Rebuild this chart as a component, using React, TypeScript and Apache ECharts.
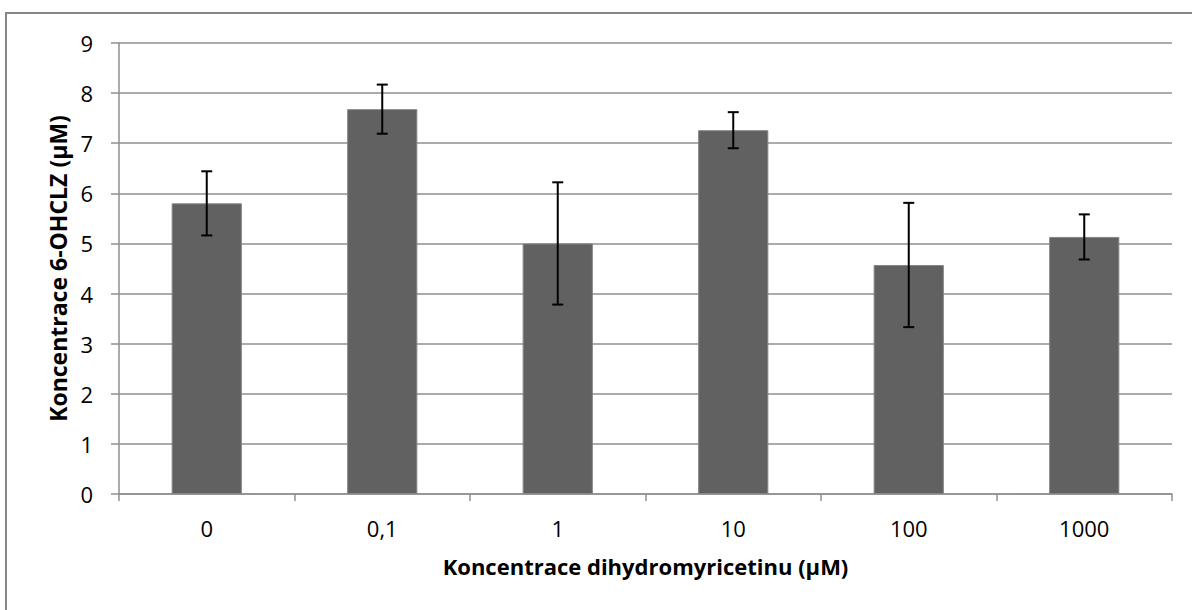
import React, { useEffect, useRef } from "react";
import * as echarts from "echarts";

const categories = ["0", "0,1", "1", "10", "100", "1000"];
const means = [5.8, 7.68, 5.0, 7.26, 4.57, 5.13];
const errors = [0.64, 0.49, 1.22, 0.36, 1.24, 0.45];
const yTicks = { min: 0, max: 9, interval: 1 };
const xTitle = "Koncentrace dihydromyricetinu (µM)";
const yTitle = "Koncentrace 6-OHCLZ (µM)";

const FONT = "'Open Sans', 'Noto Sans', sans-serif";

export default function App() {
  const ref = useRef<HTMLDivElement>(null);
  useEffect(() => {
    if (!ref.current) return;
    const chart = echarts.init(ref.current, null, { renderer: "svg" });
    const errData = means.map((m, i) => [i, m - errors[i], m + errors[i]]);
    chart.setOption({
      animation: false,
      backgroundColor: "#ffffff",
      textStyle: { fontFamily: FONT },
      graphic: [
        {
          type: "rect",
          shape: { x: 6, y: 13, width: 1300, height: 700 },
          style: { fill: "none", stroke: "#878787", lineWidth: 2 },
          silent: true,
        },
      ],
      grid: { left: 119, right: 20, top: 43, bottom: 116, containLabel: false },
      xAxis: {
        type: "category",
        data: categories,
        name: xTitle,
        nameLocation: "middle",
        nameGap: 61,
        nameTextStyle: { fontFamily: FONT, fontSize: 22, fontWeight: "bold", color: "#000" },
        axisLine: { lineStyle: { color: "#8f8f8f", width: 1.5 } },
        axisTick: { show: true, length: 7, inside: false, alignWithLabel: false, lineStyle: { color: "#8f8f8f", width: 1.5 } },
        axisLabel: { fontFamily: FONT, fontSize: 22, color: "#000", margin: 23 },
        splitLine: { show: false },
      },
      yAxis: {
        type: "value",
        min: yTicks.min,
        max: yTicks.max,
        interval: yTicks.interval,
        name: yTitle,
        nameLocation: "middle",
        nameRotate: 90,
        nameGap: 50,
        nameTextStyle: { fontFamily: FONT, fontSize: 23, fontWeight: "bold", color: "#000" },
        axisLine: { show: true, lineStyle: { color: "#8f8f8f", width: 1.5 } },
        axisTick: { show: true, length: 8, inside: false, lineStyle: { color: "#8f8f8f", width: 1.5 } },
        axisLabel: { fontFamily: FONT, fontSize: 22, color: "#000", margin: 26 },
        splitLine: { show: true, lineStyle: { color: "#8f8f8f", width: 1.5 } },
      },
      series: [
        {
          type: "bar",
          data: means,
          barCategoryGap: "60%",
          itemStyle: { color: "#616161", borderColor: "#858585", borderWidth: 1 },
          z: 2,
        },
        {
          type: "custom",
          data: errData,
          z: 3,
          renderItem: (params: any, api: any) => {
            const i = api.value(0);
            const lo = api.coord([i, api.value(1)]);
            const hi = api.coord([i, api.value(2)]);
            const x = lo[0];
            const cap = 5.5;
            const style = { stroke: "#000", lineWidth: 2 };
            return {
              type: "group",
              children: [
                { type: "line", shape: { x1: x, y1: lo[1], x2: x, y2: hi[1] }, style },
                { type: "line", shape: { x1: x - cap, y1: hi[1], x2: x + cap, y2: hi[1] }, style },
                { type: "line", shape: { x1: x - cap, y1: lo[1], x2: x + cap, y2: lo[1] }, style },
              ],
            };
          },
        },
      ],
    });
    return () => chart.dispose();
  }, []);
  return (
    <div
      ref={ref}
      style={{ position: "absolute", left: 0, top: 0, width: 1192, height: 610 }}
    />
  );
}
